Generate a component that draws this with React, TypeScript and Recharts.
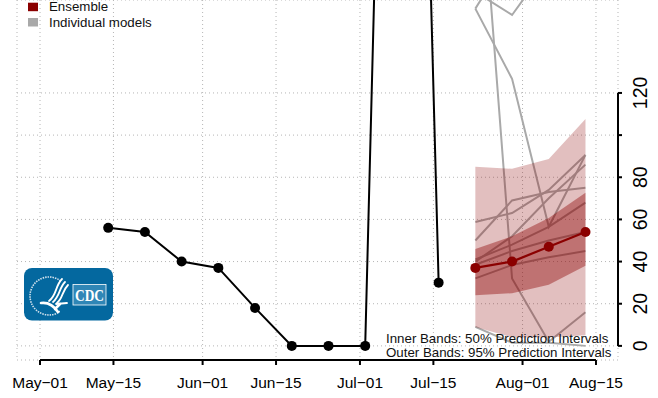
import React from "react";
import { ComposedChart, Line, Area, XAxis, YAxis, CartesianGrid, ReferenceLine } from "recharts";

// days since May-01
const xTickDays = [0, 14, 31, 45, 61, 75, 92, 106];
const xTickLabels = ["May\u221201", "May\u221215", "Jun\u221201", "Jun\u221215", "Jul\u221201", "Jul\u221215", "Aug\u221201", "Aug\u221215"];
const yTicks = [0, 20, 40, 60, 80, 100, 120];
const yTickLabels = ["0", "20", "40", "60", "80", "", "120"];

const observedDays = [13, 20, 27, 34, 41, 48, 55, 62, 69, 76];
const observedValues = [56, 54, 40, 37, 18, 0, 0, 0, 680, 30];

const forecastDays = [83, 90, 97, 104];
const ensembleValues = [37, 40, 47, 54];
const outerLow = [9, 4, 4, 5];
const outerHigh = [85, 84, 88.7, 107.6];
const innerLow = [24, 25, 29, 38];
const innerHigh = [46, 52, 60.7, 72.6];

const modelValues: number[][] = [
  [160, 126.7, 56.5, 90.6],
  [259, 32, 2, 16],
  [168, 157, 181, 190],
  [160, 188, 200, 210],
  [58.8, 63, 74, 90.6],
  [50, 69, 73, 75],
  [41, 48, 56.5, 68],
  [32, 38.4, 42, 45],
  [38.5, 45, 50, 54],
  [40, 52, 70, 86],
  [9, 1.5, 1.5, 0],
];

const rows: any[] = [
  ...observedDays.map((day, i) => ({ day, observed: observedValues[i] })),
  ...forecastDays.map((day, i) => {
    const r: any = {
      day,
      ensemble: ensembleValues[i],
      outer: [outerLow[i], outerHigh[i]],
      inner: [innerLow[i], innerHigh[i]],
    };
    modelValues.forEach((m, k) => (r["m" + k] = m[i]));
    return r;
  }),
];

const X_MIN = -4.39;
const X_MAX = 110.2;
const Y_MIN = -6.7;
const Y_MAX = 164.1;
const DARK = "#8b0000";
const FONT = "'Liberation Sans', Arial, sans-serif";

const XTick = (p: any) => {
  const i = xTickDays.indexOf(p.payload.value);
  return (
    <text x={p.x} y={388} textAnchor="middle" fontFamily={FONT} fontSize={15.5} fill="#000">
      {xTickLabels[i]}
    </text>
  );
};
const YTick = (p: any) => {
  const i = yTicks.indexOf(p.payload.value);
  return (
    <text
      transform={`translate(647,${p.y}) rotate(-90)`}
      textAnchor="middle"
      fontFamily={FONT}
      fontSize={19.5}
      fill="#000"
    >
      {yTickLabels[i]}
    </text>
  );
};

const Logo = () => (
  <g>
    <rect x={24} y={268} width={89} height={52.5} rx={8} fill="#04689f" />
    <circle cx={49} cy={296} r={19} fill="none" stroke="#cfe0ec" strokeWidth={1.6} strokeDasharray="1.5 1" />
    <rect x={60} y={270} width={12} height={48} fill="#04689f" />
    <g fill="none" stroke="#fff" strokeLinecap="round">
      <path d="M49 301 C57 295 55 286 62 279" strokeWidth={1.8} />
      <path d="M53 302 C60 296 59 288 65 282" strokeWidth={1.8} />
      <path d="M57 303 C63 298 62 291 68 285" strokeWidth={1.8} />
      <path d="M41 303 C48 302 54 306 58 312" strokeWidth={2.6} />
      <path d="M56 304 L67 303" strokeWidth={1.8} />
      <path d="M55 309 L60 304" strokeWidth={2.6} />
    </g>
    <rect x={73} y={284.5} width={33} height={20.5} fill="#2f86b6" stroke="#fff" strokeWidth={0.8} />
    <text x={89.5} y={300.5} textAnchor="middle" fontFamily="'Liberation Serif', serif" fontWeight="bold" fontSize={17} fill="#fff" textLength={29} lengthAdjust="spacingAndGlyphs">
      CDC
    </text>
  </g>
);

const Overlay = () => (
  <svg width={658} height={398} style={{ position: "absolute", left: 0, top: 0, pointerEvents: "none" }}>
    <rect x={28} y={2.7} width={10} height={8.5} fill={DARK} />
    <rect x={28} y={18} width={10} height={8.5} fill="#a9a9a9" />
    <text x={49} y={11} fontFamily={FONT} fontSize={13.3} fill="#111">Ensemble</text>
    <text x={49} y={27} fontFamily={FONT} fontSize={13.3} fill="#111">Individual models</text>
    <text x={386} y={342.5} fontFamily={FONT} fontSize={13.3} fill="#111">Inner Bands: 50% Prediction Intervals</text>
    <text x={386} y={357} fontFamily={FONT} fontSize={13.3} fill="#111">Outer Bands: 95% Prediction Intervals</text>
    <Logo />
  </svg>
);

export default function App() {
  return (
    <div style={{ position: "absolute", left: 0, top: 0, width: 658, height: 398, background: "#fff" }}>
      <ComposedChart
        width={658}
        height={398}
        data={rows}
        margin={{ top: 0, right: 0, bottom: 0, left: 17 }}
      >
        <CartesianGrid stroke="#b5b5b5" strokeDasharray="1 3" strokeWidth={1} />
        <XAxis
          type="number"
          dataKey="day"
          domain={[X_MIN, X_MAX]}
          allowDataOverflow
          ticks={xTickDays}
          interval={0}
          height={38}
          axisLine={false}
          tickSize={5}
          tickLine={{ stroke: "#000", strokeWidth: 2 }}
          tick={<XTick />}
        />
        <YAxis
          type="number"
          orientation="right"
          domain={[Y_MIN, Y_MAX]}
          allowDataOverflow
          ticks={yTicks}
          interval={0}
          width={40}
          axisLine={false}
          tickSize={4}
          tickLine={{ stroke: "#000", strokeWidth: 2 }}
          tick={<YTick />}
        />
        {modelValues.map((_, k) => (
          <Line
            key={k}
            dataKey={"m" + k}
            stroke="#a9a9a9"
            strokeWidth={2}
            dot={false}
            activeDot={false}
            isAnimationActive={false}
            {...({ zIndex: 50 } as any)}
          />
        ))}
        <Area dataKey="outer" stroke="none" fill={DARK} fillOpacity={0.25} isAnimationActive={false} activeDot={false} {...({ zIndex: 100 } as any)} />
        <Area dataKey="inner" stroke="none" fill={DARK} fillOpacity={0.4} isAnimationActive={false} activeDot={false} {...({ zIndex: 101 } as any)} />
        <Line
          dataKey="observed"
          stroke="#000"
          strokeWidth={2}
          dot={{ r: 5, fill: "#000", stroke: "#000", strokeWidth: 0 }}
          activeDot={false}
          isAnimationActive={false}
        />
        <Line
          dataKey="ensemble"
          stroke={DARK}
          strokeWidth={2.2}
          dot={{ r: 5, fill: DARK, stroke: DARK, strokeWidth: 0 }}
          activeDot={false}
          isAnimationActive={false}
        />
        <ReferenceLine
          segment={[{ x: 0, y: Y_MIN }, { x: 106, y: Y_MIN }]}
          stroke="#000"
          strokeWidth={2}
          ifOverflow="visible"
        />
        <ReferenceLine
          segment={[{ x: X_MAX, y: 0 }, { x: X_MAX, y: 120 }]}
          stroke="#000"
          strokeWidth={2}
          ifOverflow="visible"
        />
      </ComposedChart>
      <Overlay />
    </div>
  );
}
